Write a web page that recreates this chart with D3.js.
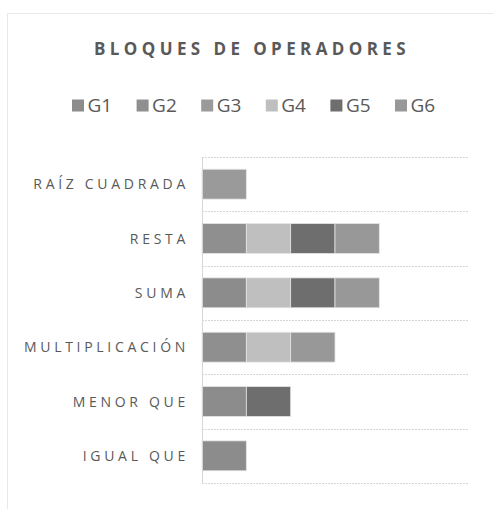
<!DOCTYPE html>
<html>
<head>
<meta charset="utf-8">
<script src="https://cdn.jsdelivr.net/npm/d3@7"></script>
<style>
  body { margin: 0; background: #fff; }
  text { font-family: "Open Sans", "Liberation Sans", sans-serif; fill: #595959; }
</style>
</head>
<body>
<svg id="chart" width="493" height="509"></svg>
<script>
// categories, top to bottom
let categories = ["RAÍZ CUADRADA", "RESTA", "SUMA", "MULTIPLICACIÓN", "MENOR QUE", "IGUAL QUE"];
let seriesNames = ["G1", "G2", "G3", "G4", "G5", "G6"];
let seriesColors = ["#8c8c8c", "#8f8f8f", "#9a9a9a", "#bfbfbf", "#6e6e6e", "#989898"];
// values per series, in category order
let g1 = [0, 0, 1, 0, 1, 1];
let g2 = [0, 1, 0, 1, 0, 0];
let g3 = [1, 0, 0, 0, 0, 0];
let g4 = [0, 1, 1, 1, 0, 0];
let g5 = [0, 1, 1, 0, 1, 0];
let g6 = [0, 1, 1, 1, 0, 0];

let seriesValues = [g1, g2, g3, g4, g5, g6];
let rows = categories.map((c, i) => {
  let r = {cat: c};
  seriesNames.forEach((s, j) => r[s] = seriesValues[j][i]);
  return r;
});

let svg = d3.select("#chart");

// outer chart border (dotted, runs off right/bottom)
svg.append("rect")
  .attr("x", 7.5).attr("y", 13.5)
  .attr("width", 520).attr("height", 520)
  .attr("fill", "none")
  .attr("stroke", "#d0d0d0")
  .attr("stroke-dasharray", "1,1");

let plotLeft = 202, plotRight = 468, plotTop = 157, plotBottom = 483;

let xScale = d3.scaleLinear().domain([0, 6]).range([plotLeft, plotRight]);
let yScale = d3.scaleBand().domain(categories).range([plotTop, plotBottom]).paddingInner(0.45).paddingOuter(0.225);

// horizontal gridlines at band boundaries
let gridYs = d3.range(categories.length + 1).map(i => plotTop + i * (plotBottom - plotTop) / categories.length);
svg.append("g").selectAll("line")
  .data(gridYs)
  .enter().append("line")
  .attr("x1", plotLeft).attr("x2", plotRight)
  .attr("y1", d => Math.round(d) + 0.5).attr("y2", d => Math.round(d) + 0.5)
  .attr("stroke", "#d6d6d6")
  .attr("stroke-dasharray", "2,1");

// title
svg.append("text")
  .attr("x", 252).attr("y", 55)
  .attr("text-anchor", "middle")
  .style("font-size", "17px")
  .style("font-weight", "bold")
  .style("letter-spacing", "4.4px")
  .text("BLOQUES DE OPERADORES");

// legend
let legend = svg.append("g").selectAll("g")
  .data(seriesNames)
  .enter().append("g")
  .attr("transform", (d, i) => `translate(${72 + i * 64.6},0)`);
legend.append("rect")
  .attr("x", 0).attr("y", 99.5)
  .attr("width", 12).attr("height", 12)
  .attr("fill", (d, i) => seriesColors[i]);
legend.append("text")
  .attr("x", 15.5).attr("y", 112)
  .style("font-size", "19px")
  .text(d => d);

// stacked bars
let stack = d3.stack().keys(seriesNames)(rows);
svg.append("g").selectAll("g")
  .data(stack)
  .enter().append("g")
  .attr("fill", (d, i) => seriesColors[i])
  .selectAll("rect")
  .data(d => d.filter(p => p[1] > p[0]))
  .enter().append("rect")
  .attr("x", d => xScale(d[0]))
  .attr("y", d => yScale(d.data.cat))
  .attr("width", d => xScale(d[1]) - xScale(d[0]))
  .attr("height", yScale.bandwidth())
  .attr("stroke", "#e4e4e4")
  .attr("stroke-width", 0.8);

// y axis line
svg.append("line")
  .attr("x1", plotLeft + 0.5).attr("x2", plotLeft + 0.5)
  .attr("y1", plotTop).attr("y2", plotBottom)
  .attr("stroke", "#d6d6d6");

// category labels
svg.append("g").selectAll("text")
  .data(categories)
  .enter().append("text")
  .attr("x", 189)
  .attr("y", d => yScale(d) + yScale.bandwidth() / 2 + 5)
  .attr("text-anchor", "end")
  .style("font-size", "14px")
  .style("letter-spacing", "3.7px")
  .text(d => d);
</script>
</body>
</html>
